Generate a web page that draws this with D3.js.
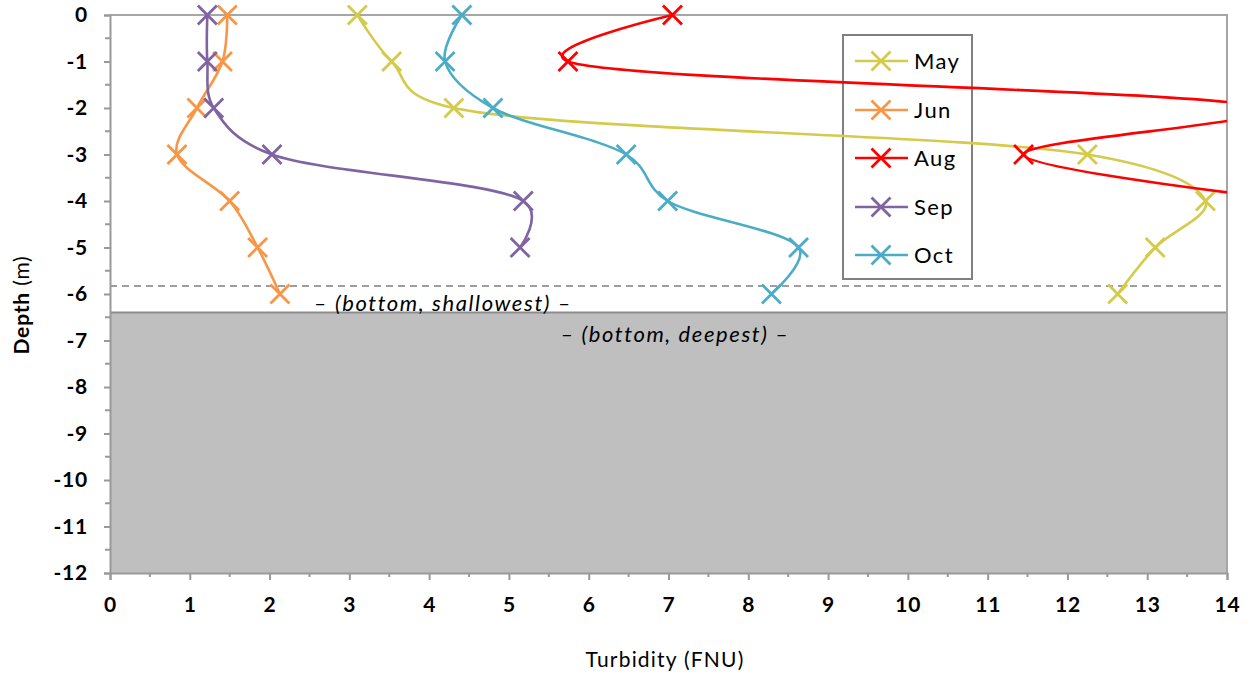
<!DOCTYPE html>
<html>
<head>
<meta charset="utf-8">
<script src="https://cdn.jsdelivr.net/npm/d3@7/dist/d3.min.js"></script>
<style>
  html, body { margin: 0; padding: 0; background: #fff; }
  svg { display: block; font-family: Lato, "Open Sans", sans-serif; }
</style>
</head>
<body>
<svg id="chart" width="1254" height="674"></svg>
<script>
// Depth levels (m) sampled each month
const depths = [0, -1, -2, -3, -4, -5, -6];

// Turbidity (FNU) per month, one value per depth level
const may = [3.10, 3.53, 4.31, 12.25, 13.73, 13.10, 12.63];
const jun = [1.47, 1.41, 1.09, 0.84, 1.50, 1.85, 2.13];
const aug = [7.05, 5.74, 14.45, 11.45, 14.9];
const sep = [1.22, 1.22, 1.30, 2.03, 5.18, 5.14];
const oct = [4.41, 4.20, 4.80, 6.47, 6.99, 8.63, 8.29];

const seriesNames = ["May", "Jun", "Aug", "Sep", "Oct"];
const seriesValues = [may, jun, aug, sep, oct];
const seriesColors = ["#d4cb4c", "#f79646", "#ff0000", "#8064a2", "#4bacc6"];

const xTicks = [0, 1, 2, 3, 4, 5, 6, 7, 8, 9, 10, 11, 12, 13, 14];
const yTicks = [0, -1, -2, -3, -4, -5, -6, -7, -8, -9, -10, -11, -12];

// Bottom depths at the sampling site
const bottomShallowest = -5.83;
const bottomDeepest = -6.4;

const svg = d3.select("#chart");
const plotLeft = 110, plotRight = 1227, plotTop = 15, plotBottom = 573;

const x = d3.scaleLinear().domain([0, 14]).range([plotLeft, plotRight]);
const y = d3.scaleLinear().domain([0, -12]).range([plotTop, plotBottom]);

// Seabed region below the deepest bottom
svg.append("rect")
  .attr("x", x(0)).attr("y", y(bottomDeepest))
  .attr("width", x(14) - x(0)).attr("height", y(-12) - y(bottomDeepest))
  .attr("fill", "#bfbfbf");
svg.append("line")
  .attr("x1", x(0)).attr("x2", x(14))
  .attr("y1", y(bottomDeepest)).attr("y2", y(bottomDeepest))
  .attr("stroke", "#8c8c8c").attr("stroke-width", 2);

// Shallowest bottom marker
svg.append("line")
  .attr("x1", x(0)).attr("x2", x(14))
  .attr("y1", y(bottomShallowest)).attr("y2", y(bottomShallowest))
  .attr("stroke", "#7f7f7f").attr("stroke-width", 1.5)
  .attr("stroke-dasharray", "7,5");

const noteStyle = t => t
  .attr("text-anchor", "middle")
  .attr("font-style", "italic").attr("font-size", 22)
  .attr("letter-spacing", 1.6)
  .attr("fill", "#000");

svg.append("text")
  .attr("x", 443).attr("y", y(bottomShallowest) + 25)
  .call(noteStyle)
  .text("\u2013 (bottom, shallowest) \u2013");

svg.append("text")
  .attr("x", 675).attr("y", y(bottomDeepest) + 29)
  .call(noteStyle)
  .text("\u2013 (bottom, deepest) \u2013");

// Plot frame (top and right edges)
svg.append("path")
  .attr("d", `M${plotLeft},${plotTop}H${plotRight}V${plotBottom}`)
  .attr("fill", "none").attr("stroke", "#a6a6a6").attr("stroke-width", 2);

const fmt = d => String(d);

// Axes
const xAxis = d3.axisBottom(x).tickValues(xTicks).tickSize(7).tickFormat(fmt);
const gx = svg.append("g").attr("transform", `translate(0,${plotBottom})`).call(xAxis);
gx.select(".domain").attr("stroke", "#999").attr("stroke-width", 2);
gx.selectAll(".tick line").attr("stroke", "#999").attr("stroke-width", 2);
gx.selectAll(".tick text")
  .attr("font-family", "Lato, sans-serif").attr("font-weight", "bold")
  .attr("font-size", 21).attr("letter-spacing", 0.8).attr("fill", "#000")
  .attr("y", 24).attr("dy", "0.71em");
// minor x ticks
svg.append("g").selectAll("line")
  .data(d3.range(0.5, 14, 1)).join("line")
  .attr("x1", d => x(d)).attr("x2", d => x(d))
  .attr("y1", plotBottom).attr("y2", plotBottom + 4)
  .attr("stroke", "#999").attr("stroke-width", 2);

const yAxis = d3.axisLeft(y).tickValues(yTicks).tickSize(6).tickFormat(fmt);
const gy = svg.append("g").attr("transform", `translate(${plotLeft},0)`).call(yAxis);
gy.select(".domain").attr("stroke", "#999").attr("stroke-width", 2);
gy.selectAll(".tick line").attr("stroke", "#999").attr("stroke-width", 2);
gy.selectAll(".tick text")
  .attr("font-family", "Lato, sans-serif").attr("font-weight", "bold")
  .attr("font-size", 21).attr("letter-spacing", 0.8).attr("fill", "#000").attr("x", -22);
// minor y ticks
svg.append("g").selectAll("line")
  .data(d3.range(-0.5, -12, -1)).join("line")
  .attr("x1", plotLeft - 5).attr("x2", plotLeft)
  .attr("y1", d => y(d)).attr("y2", d => y(d))
  .attr("stroke", "#999").attr("stroke-width", 2);

// Axis titles
svg.append("text")
  .attr("transform", `translate(29,305) rotate(-90)`)
  .attr("text-anchor", "middle").attr("font-size", 21).attr("fill", "#000")
  .attr("letter-spacing", 0.8)
  .call(t => {
    t.append("tspan").attr("font-weight", "bold").text("Depth");
    t.append("tspan").text(" (m)");
  });

svg.append("text")
  .attr("x", 665).attr("y", 667)
  .attr("text-anchor", "middle").attr("font-size", 21).attr("fill", "#000")
  .attr("letter-spacing", 1.2)
  .text("Turbidity (FNU)");

// Legend (frame only; series lines pass behind the text)
const legX = 843, legY = 35, legW = 129, legH = 244;
svg.append("rect")
  .attr("x", legX).attr("y", legY).attr("width", legW).attr("height", legH)
  .attr("fill", "none").attr("stroke", "#808080").attr("stroke-width", 2);

// Clip region for series
svg.append("clipPath").attr("id", "plotClip")
  .append("rect").attr("x", plotLeft).attr("y", plotTop - 12)
  .attr("width", plotRight - plotLeft).attr("height", plotBottom - plotTop + 12);

const line = d3.line()
  .x(d => x(d[0])).y(d => y(d[1]))
  .curve(d3.curveCatmullRom.alpha(0.25));

const markerHalf = 9.5;
function xMark(sel, color) {
  sel.append("path")
    .attr("d", `M${-markerHalf},${-markerHalf}L${markerHalf},${markerHalf}M${-markerHalf},${markerHalf}L${markerHalf},${-markerHalf}`)
    .attr("stroke", color).attr("stroke-width", 2.8).attr("fill", "none");
}

const plot = svg.append("g").attr("clip-path", "url(#plotClip)");
seriesValues.forEach((vals, i) => {
  const pts = vals.map((v, j) => [v, depths[j]]);
  const color = seriesColors[i];
  plot.append("path")
    .attr("d", line(pts))
    .attr("fill", "none").attr("stroke", color).attr("stroke-width", 2.6);
  pts.filter(p => p[0] <= 14).forEach(p => {
    plot.append("g").attr("transform", `translate(${x(p[0])},${y(p[1])})`).call(xMark, color);
  });
});

// Legend entries
const legRowY = [61, 110, 158, 207, 255];
seriesNames.forEach((name, i) => {
  const g = svg.append("g").attr("transform", `translate(0,${legRowY[i]})`);
  g.append("line").attr("x1", 855).attr("x2", 908).attr("y1", 0).attr("y2", 0)
    .attr("stroke", seriesColors[i]).attr("stroke-width", 2.6);
  g.append("g").attr("transform", "translate(881,0)").call(xMark, seriesColors[i]);
  g.append("text").attr("x", 914).attr("y", 0).attr("dy", "0.36em")
    .attr("font-size", 22).attr("letter-spacing", 1.4).attr("fill", "#000").text(name);
});
</script>
</body>
</html>
